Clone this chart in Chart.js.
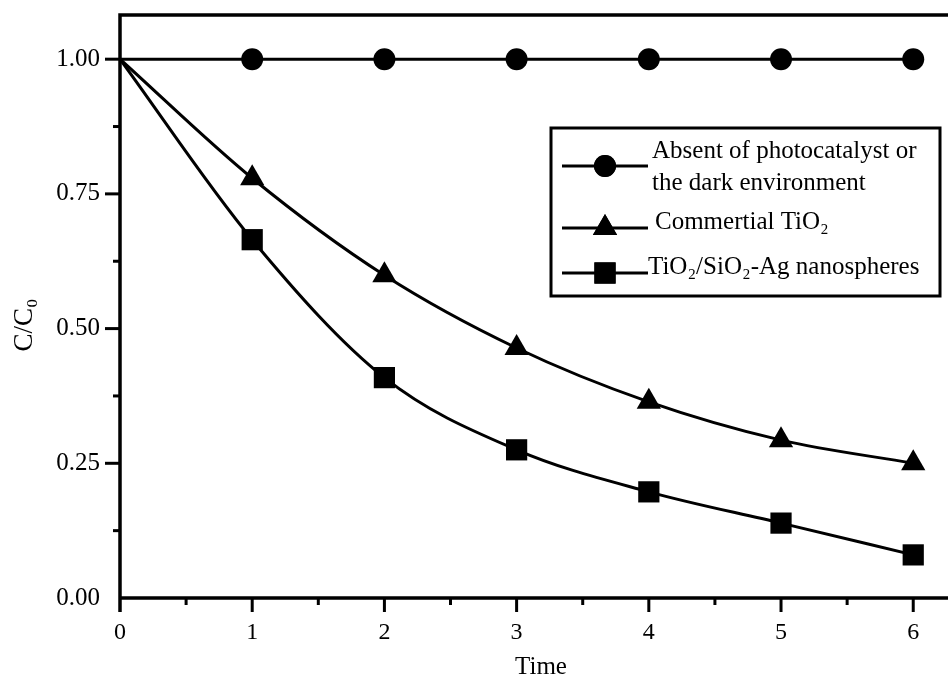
<!DOCTYPE html>
<html>
<head>
<meta charset="utf-8">
<script src="https://cdn.jsdelivr.net/npm/chart.js@4"></script>
<style>
  html, body { margin: 0; padding: 0; background: #fff; }
  #wrap { width: 948px; height: 681px; position: relative; }
</style>
</head>
<body>
<div id="wrap"><canvas id="chart"></canvas></div>
<script>
  // time points and C/C0 readings
  var times = [0, 1, 2, 3, 4, 5, 6];
  var darkValues = [1.00, 1.00, 1.00, 1.00, 1.00, 1.00, 1.00];
  var tio2Values = [1.00, 0.779, 0.599, 0.464, 0.364, 0.293, 0.250];
  var agValues = [1.00, 0.665, 0.409, 0.275, 0.197, 0.139, 0.080];

  var seriesLabels = [
    ['Absent of photocatalyst or', 'the dark environment'],
    ['Commertial TiO\u2082'],
    ['TiO\u2082/SiO\u2082-Ag nanospheres']
  ];
  var xTitle = 'Time';
  var yTitle = 'C/C\u2080';
  var xTicks = [0, 1, 2, 3, 4, 5, 6];
  var yTicks = [0, 0.25, 0.5, 0.75, 1.0];

  var FONT = '"Liberation Serif", "Times New Roman", serif';

  function toPoints(vals) {
    return vals.map(function (v, i) { return { x: times[i], y: v }; });
  }
  // no marker on the shared starting point
  function radii(r) {
    return times.map(function (t, i) { return i === 0 ? 0 : r; });
  }

  function series(label, vals, style, radius) {
    return {
      label: label,
      data: toPoints(vals),
      borderColor: '#000',
      backgroundColor: '#000',
      borderWidth: 3,
      pointStyle: style,
      pointRadius: radius,
      pointBorderWidth: 0,
      cubicInterpolationMode: 'monotone',
      fill: false
    };
  }

  var markerStyles = ['circle', 'triangle', 'rect'];
  var markerSizes = [11, 14, 15];

  // frame, minor/major ticks, axis titles, legend box
  var decorPlugin = {
    id: 'decor',
    afterDraw: function (chart) {
      var ctx = chart.ctx;
      var a = chart.chartArea;
      var xs = chart.scales.x, ys = chart.scales.y;
      ctx.save();
      ctx.strokeStyle = '#000';
      ctx.lineWidth = 3.5;
      ctx.beginPath();
      ctx.moveTo(a.right + 2, a.top);
      ctx.lineTo(a.left, a.top);
      ctx.lineTo(a.left, a.bottom + 14);
      ctx.moveTo(a.left, a.bottom);
      ctx.lineTo(a.right + 2, a.bottom);
      ctx.stroke();

      ctx.lineWidth = 3;
      var v, p;
      for (v = 0.5; v <= 6.001; v += 0.5) {
        p = xs.getPixelForValue(v);
        var len = (Math.abs(v - Math.round(v)) < 1e-6) ? 14 : 7;
        ctx.beginPath();
        ctx.moveTo(p, a.bottom);
        ctx.lineTo(p, a.bottom + len);
        ctx.stroke();
      }
      for (v = 0.125; v <= 1.001; v += 0.125) {
        p = ys.getPixelForValue(v);
        var major = Math.abs(v / 0.25 - Math.round(v / 0.25)) < 1e-6;
        ctx.beginPath();
        ctx.moveTo(a.left, p);
        ctx.lineTo(a.left - (major ? 15 : 7), p);
        ctx.stroke();
      }

      // axis titles
      ctx.fillStyle = '#000';
      ctx.textAlign = 'center';
      ctx.textBaseline = 'middle';
      ctx.font = '25px ' + FONT;
      ctx.fillText(xTitle, 541, 667);
      ctx.save();
      ctx.translate(25, 325);
      ctx.rotate(-Math.PI / 2);
      ctx.font = '27px ' + FONT;
      ctx.fillText(yTitle, 0, 0);
      ctx.restore();

      // legend
      var bx = 551, by = 128, bw = 389, bh = 168;
      ctx.lineWidth = 3;
      ctx.strokeRect(bx, by, bw, bh);
      var rows = [166, 228, 273];
      var textX = [652, 655, 648];
      ctx.font = '25px ' + FONT;
      ctx.textBaseline = 'middle';
      ctx.textAlign = 'left';
      rows.forEach(function (ry, i) {
        ctx.lineWidth = 3;
        ctx.beginPath();
        ctx.moveTo(562, ry);
        ctx.lineTo(648, ry);
        ctx.stroke();
        Chart.helpers.drawPoint(ctx, { pointStyle: markerStyles[i], radius: markerSizes[i], borderWidth: 0 }, 605, ry);
        ctx.fill();
        var lines = seriesLabels[i];
        if (lines.length === 2) {
          ctx.fillText(lines[0], textX[i], ry - 15);
          ctx.fillText(lines[1], textX[i], ry + 17);
        } else {
          ctx.fillText(lines[0], textX[i], ry - 6);
        }
      });
      ctx.restore();
    }
  };

  new Chart(document.getElementById('chart'), {
    type: 'line',
    data: {
      datasets: [
        series(seriesLabels[0].join(' '), darkValues, markerStyles[0], radii(markerSizes[0])),
        series(seriesLabels[1][0], tio2Values, markerStyles[1], radii(markerSizes[1])),
        series(seriesLabels[2][0], agValues, markerStyles[2], radii(markerSizes[2]))
      ]
    },
    options: {
      responsive: true,
      maintainAspectRatio: false,
      animation: false,
      layout: { autoPadding: false, padding: { top: 15, right: 0, left: 0, bottom: 0 } },
      plugins: {
        legend: { display: false },
        tooltip: { enabled: false }
      },
      scales: {
        x: {
          type: 'linear',
          min: 0,
          max: 6.263,
          afterBuildTicks: function (s) { s.ticks = xTicks.map(function (v) { return { value: v }; }); },
          afterFit: function (s) { s.height = 83; s.paddingLeft = 0; s.paddingRight = 0; },
          grid: { display: false, drawTicks: false },
          border: { display: false },
          ticks: {
            padding: 20,
            color: '#000',
            font: { family: FONT, size: 24 },
            maxRotation: 0,
            callback: function (v) { return String(v); }
          },
          title: { display: false }
        },
        y: {
          type: 'linear',
          min: 0,
          max: 1.082,
          afterBuildTicks: function (s) { s.ticks = yTicks.map(function (v) { return { value: v }; }); },
          afterFit: function (s) { s.width = 120; s.paddingTop = 0; s.paddingBottom = 0; },
          grid: { display: false, drawTicks: false },
          border: { display: false },
          ticks: {
            padding: 20,
            color: '#000',
            font: { family: FONT, size: 25 },
            callback: function (v) { return Number(v).toFixed(2); }
          },
          title: { display: false }
        }
      }
    },
    plugins: [decorPlugin]
  });
</script>
</body>
</html>
